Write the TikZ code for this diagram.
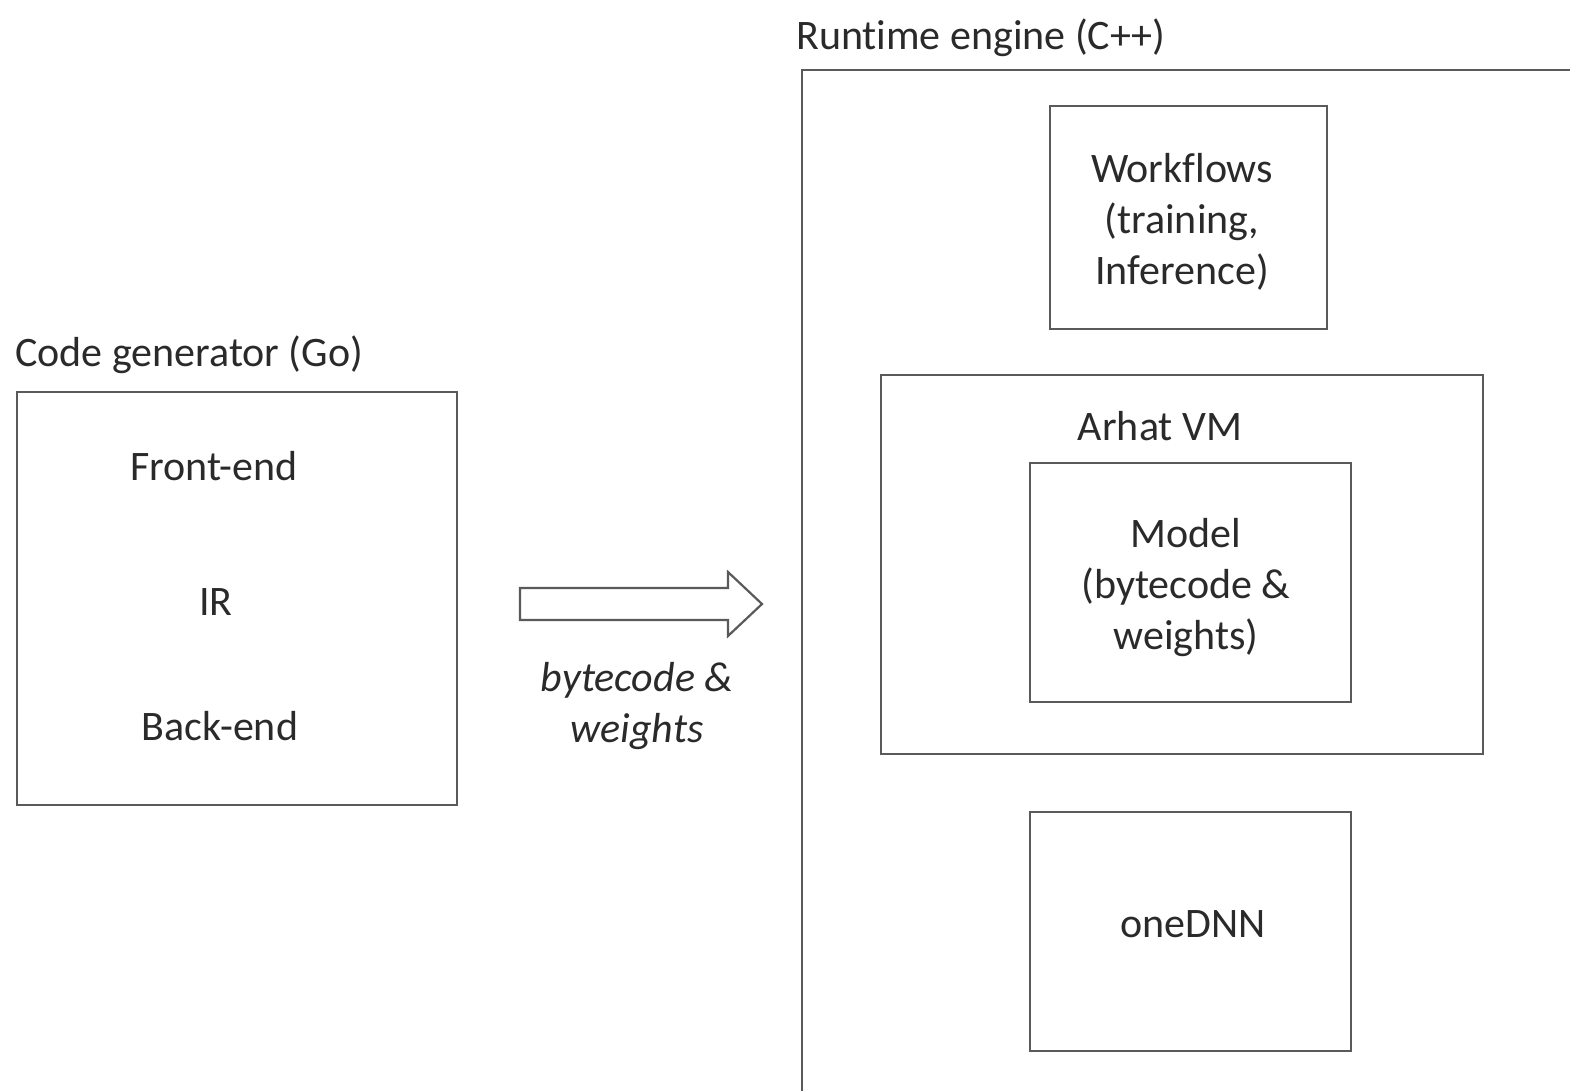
\documentclass[tikz,border=0pt]{standalone}
\usepackage{fontspec}
\setmainfont[Ligatures=NoCommon]{Carlito}
\begin{document}
\begin{tikzpicture}[x=1pt,y=-1pt,
  box/.style={draw=boxgray,line width=2.4pt},
  txt/.style={text=textgray,font=\fontsize{42}{51}\selectfont,align=center,inner sep=0pt},
  ttl/.style={txt,anchor=west}]
\definecolor{boxgray}{HTML}{5A5A5A}
\definecolor{textgray}{HTML}{2A2A2A}
\useasboundingbox (0,0) rectangle (1570,1090);
\clip (0,0) rectangle (1570,1090);

% code generator
\node[ttl] (cgtitle) at (15,355) {Code generator (Go)};
\draw[box] (17,392) rectangle (457,805);
\node[txt] (fe) at (214,466) {Front-end};
\node[txt] (ir) at (216,602) {IR};
\node[txt] (be) at (220,726) {Back-end};

% hand-off arrow
\draw[box,line width=2.2pt,line join=miter]
  (520,588) -- (728,588) -- (728,572) -- (762,604) -- (728,636) -- (728,620) -- (520,620) -- cycle;
\node[txt,font=\fontsize{42}{51}\selectfont\itshape] (bw) at (637,706) {bytecode \&\\weights};

% runtime engine
\node[ttl] (rttitle) at (796,38) {Runtime engine (C++)};
\draw[box] (802,1120) -- (802,70) -- (1600,70);

\draw[box] (1050,106) rectangle (1327,329);
\node[txt] (wf) at (1182,222) {Workflows\\(training,\\Inference)};

\draw[box] (881,375) rectangle (1483,754);
\node[txt] (vm) at (1160,426) {Arhat VM};

\draw[box] (1030,463) rectangle (1351,702);
\node[txt] (model) at (1186,588) {Model\\(bytecode \&\\weights)};

\draw[box] (1030,812) rectangle (1351,1051);
\node[txt] (dnn) at (1193,924) {oneDNN};
\end{tikzpicture}
\end{document}
